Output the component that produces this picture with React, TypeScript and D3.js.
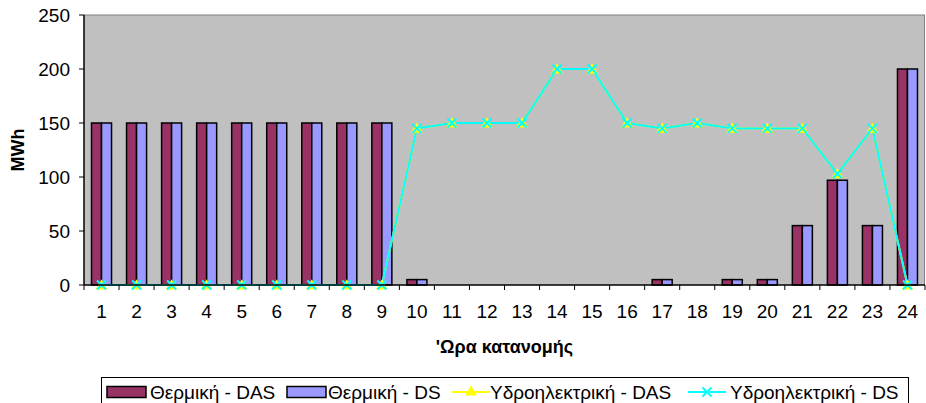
import React from "react";
import * as d3 from "d3";

const hours = ["1","2","3","4","5","6","7","8","9","10","11","12","13","14","15","16","17","18","19","20","21","22","23","24"];
const thermalDAS = [150,150,150,150,150,150,150,150,150,5,0,0,0,0,0,0,5,0,5,5,55,97,55,200];
const thermalDS = [150,150,150,150,150,150,150,150,150,5,0,0,0,0,0,0,5,0,5,5,55,97,55,200];
const hydroDAS = [0,0,0,0,0,0,0,0,0,145,150,150,150,200,200,150,145,150,145,145,145,103,145,0];
const hydroDS = [0,0,0,0,0,0,0,0,0,145,150,150,150,200,200,150,145,150,145,145,145,103,145,0];
const yTicks = [0,50,100,150,200,250];
const seriesNames = ["Θερμική - DAS","Θερμική - DS","Υδροηλεκτρική - DAS","Υδροηλεκτρική - DS"];
const yTitle = "MWh";
const xTitle = "'Ωρα κατανομής";

const W = 926, H = 403;
const L = 84, R = 925, T = 15, B = 285;
const FONT = "'Liberation Sans', Arial, sans-serif";
const C_DAS = "#993366", C_DS = "#9999FF", C_HDAS = "#FFFF00", C_HDS = "#00FFFF";

export default function App() {
  const x = d3.scaleBand<string>().domain(hours).range([L, R]).paddingInner(0).paddingOuter(0);
  const y = d3.scaleLinear().domain([0, 250]).range([B, T]);
  const bw = x.bandwidth();
  const barW = bw / 3.5;
  const inner = d3.scaleBand<string>().domain(["a", "b"]).range([0, barW * 2]);
  const cx = (h: string) => (x(h) as number) + bw / 2;
  const line = d3.line<number>().x((_, i) => cx(hours[i])).y((v) => y(v));
  const tri = d3.symbol().type(d3.symbolTriangle).size(60)();

  const legendItems = [
    { type: "bar", color: C_DAS, sx: 107, tx: 150 },
    { type: "bar", color: C_DS, sx: 287, tx: 328 },
    { type: "tri", color: C_HDAS, sx: 452, tx: 490 },
    { type: "x", color: C_HDS, sx: 688, tx: 730 },
  ];
  const ly = 392;

  return (
    <svg width={W} height={H} style={{ position: "absolute", left: 0, top: 0, background: "#fff" }} fontFamily={FONT}>
      <rect x={L} y={T} width={R - L} height={B - T} fill="#C0C0C0" />
      <line x1={L} x2={R} y1={T} y2={T} stroke="#808080" />
      <line x1={R - 0.5} x2={R - 0.5} y1={T} y2={B} stroke="#808080" />

      {hours.map((h, i) => (
        <g key={h}>
          <rect x={(x(h) as number) + (bw - 2 * barW) / 2 + (inner("a") as number)} y={y(thermalDAS[i])}
            width={barW} height={B - y(thermalDAS[i])} fill={C_DAS} stroke="#000" strokeWidth={1.5} />
          <rect x={(x(h) as number) + (bw - 2 * barW) / 2 + (inner("b") as number)} y={y(thermalDS[i])}
            width={barW} height={B - y(thermalDS[i])} fill={C_DS} stroke="#000" strokeWidth={1.5} />
        </g>
      ))}

      <path d={line(hydroDAS) || ""} fill="none" stroke={C_HDAS} strokeWidth={2} />
      <path d={line(hydroDS) || ""} fill="none" stroke={C_HDS} strokeWidth={2} />
      {hydroDAS.map((v, i) => (
        <path key={"t" + i} d={tri || ""} transform={`translate(${cx(hours[i])},${y(v) + 1})`} fill={C_HDAS} />
      ))}
      {hydroDS.map((v, i) => (
        <g key={"x" + i} transform={`translate(${cx(hours[i])},${y(v)})`} stroke={C_HDS} strokeWidth={2}>
          <line x1={-4.5} y1={-4.5} x2={4.5} y2={4.5} />
          <line x1={-4.5} y1={4.5} x2={4.5} y2={-4.5} />
        </g>
      ))}

      {/* axes */}
      <line x1={L} x2={L} y1={T} y2={B} stroke="#000" strokeWidth={1.5} />
      <line x1={L} x2={R} y1={B} y2={B} stroke="#000" strokeWidth={1.5} />
      {yTicks.map((t) => (
        <g key={t}>
          <line x1={L - 5} x2={L} y1={y(t)} y2={y(t)} stroke="#000" />
          <text x={L - 14} y={y(t)} dy="0.35em" textAnchor="end" fontSize={19}>{t}</text>
        </g>
      ))}
      {hours.map((h) => (
        <g key={"xt" + h}>
          <line x1={x(h) as number} x2={x(h) as number} y1={B} y2={B + 5} stroke="#000" />
          <text x={cx(h)} y={318} textAnchor="middle" fontSize={19}>{h}</text>
        </g>
      ))}
      <line x1={R} x2={R} y1={B} y2={B + 5} stroke="#000" />

      <text transform={`translate(24,${(T + B) / 2}) rotate(-90)`} textAnchor="middle" fontSize={18} fontWeight="bold">{yTitle}</text>
      <text x={(L + R) / 2} y={353} textAnchor="middle" fontSize={18} fontWeight="bold">{xTitle}</text>

      {/* legend */}
      <rect x={101.5} y={377.5} width={807} height={30} fill="#fff" stroke="#000" />
      {legendItems.map((it, i) => (
        <g key={"lg" + i}>
          {it.type === "bar" && (
            <rect x={it.sx} y={ly - 5.5} width={39} height={11} fill={it.color} stroke="#000" strokeWidth={1.5} />
          )}
          {it.type !== "bar" && (
            <line x1={it.sx} x2={it.sx + 38} y1={ly} y2={ly} stroke={it.color} strokeWidth={2} />
          )}
          {it.type === "tri" && (
            <path d={tri || ""} transform={`translate(${it.sx + 19},${ly})`} fill={it.color} />
          )}
          {it.type === "x" && (
            <g transform={`translate(${it.sx + 19},${ly})`} stroke={it.color} strokeWidth={2}>
              <line x1={-4.5} y1={-4.5} x2={4.5} y2={4.5} />
              <line x1={-4.5} y1={4.5} x2={4.5} y2={-4.5} />
            </g>
          )}
          <text x={it.tx} y={399} fontSize={19}>{seriesNames[i]}</text>
        </g>
      ))}
    </svg>
  );
}
